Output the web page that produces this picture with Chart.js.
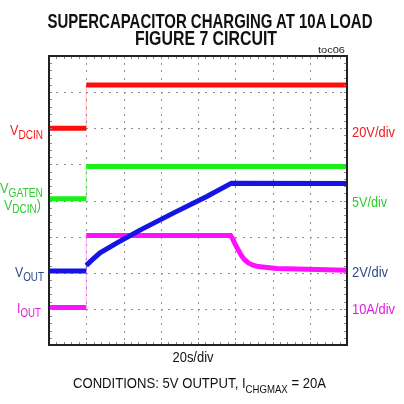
<!DOCTYPE html>
<html>
<head>
<meta charset="utf-8">
<script src="https://cdn.jsdelivr.net/npm/chart.js@4.4.0/dist/chart.umd.min.js"></script>
<style>
  html, body { margin: 0; padding: 0; background: #fff; }
  #wrap { position: relative; width: 404px; height: 404px; background: #fff; overflow: hidden; }
  canvas { position: absolute; left: 0; top: 0; }
  .t { position: absolute; white-space: nowrap; line-height: 0; font-family: "Liberation Sans", Arial, Helvetica, sans-serif; }
  .t span.sub { position: relative; }
</style>
</head>
<body>
<div id="wrap">
  <canvas id="c" width="404" height="404"></canvas>
  <div class="t" id="title1" style="font-size:19.5px;font-weight:bold;color:#111">SUPERCAPACITOR CHARGING AT 10A LOAD</div>
  <div class="t" id="title2" style="font-size:19.5px;font-weight:bold;color:#111">FIGURE 7 CIRCUIT</div>
  <div class="t" id="toc" style="font-size:9px;color:#222">toc06</div>
  <div class="t" id="xlab" style="font-size:14px;color:#111">20s/div</div>
  <div class="t" id="cond" style="font-size:15px;color:#111">CONDITIONS: 5V OUTPUT, I<span class="sub" style="font-size:11px;top:5px">CHGMAX</span> = 20A</div>

  <div class="t" id="lv1" style="font-size:15px;color:#ee1c1c">V<span class="sub" style="font-size:12px;top:3.5px">DCIN</span></div>
  <div class="t" id="lv2a" style="font-size:15px;color:#2ecc2e">V<span class="sub" style="font-size:12px;top:3.5px">GATEN</span></div>
  <div class="t" id="lv2b" style="font-size:15px;color:#2ecc2e">V<span class="sub" style="font-size:12px;top:3.5px">DCIN</span>)</div>
  <div class="t" id="lv3" style="font-size:15px;color:#2e4a86">V<span class="sub" style="font-size:12px;top:4px">OUT</span></div>
  <div class="t" id="lv4" style="font-size:15px;color:#e01ee0">I<span class="sub" style="font-size:12px;top:4px">OUT</span></div>

  <div class="t" id="r1" style="font-size:14px;color:#ee1c1c">20V/div</div>
  <div class="t" id="r2" style="font-size:14px;color:#2ecc2e">5V/div</div>
  <div class="t" id="r3" style="font-size:14px;color:#2e4a86">2V/div</div>
  <div class="t" id="r4" style="font-size:14px;color:#e01ee0">10A/div</div>
</div>
<script>
// ---- Data (time in seconds, 20 s/div; trace levels in screen divisions, 8 div tall) ----
const timeVdcin = [0, 20, 20, 160];
const vdcinDiv  = [6.0, 6.0, 7.2, 7.2];

const timeGate  = [0, 20, 20, 160];
const gateDiv   = [4.05, 4.05, 4.94, 4.94];

const timeVout  = [0, 20, 20, 23, 27.4, 36.3, 48.9, 66.7, 84.7, 98, 160];
const voutDiv   = [2.05, 2.05, 2.2, 2.35, 2.55, 2.82, 3.18, 3.65, 4.11, 4.48, 4.47];

const timeIout  = [0, 20, 20, 97.5, 98.5, 99.5, 101.7, 103.5, 105, 107, 109.5, 112.4, 116, 122.3, 160];
const ioutDiv   = [1.04, 1.04, 3.03, 3.03, 2.95, 2.84, 2.62, 2.46, 2.36, 2.27, 2.21, 2.17, 2.15, 2.12, 2.07];

const timeRange = [0, 160];   // 8 div x 20 s/div
const divRange  = [0, 8];     // 8 vertical divisions

function pts(xs, ys) { return xs.map((x, i) => ({ x: x, y: ys[i] })); }

function traceDataset(label, xs, ys, color, faint, order) {
  return {
    label: label,
    data: pts(xs, ys),
    borderColor: color,
    borderWidth: 5,
    pointRadius: 0,
    tension: 0,
    fill: false,
    order: order,
    borderCapStyle: 'butt',
    segment: {
      borderWidth: ctx => (ctx.p0.parsed.x === ctx.p1.parsed.x ? 1 : 5),
      borderColor: ctx => (ctx.p0.parsed.x === ctx.p1.parsed.x ? faint : color)
    }
  };
}

// dotted scope graticule drawn from the scales
const graticule = {
  id: 'graticule',
  beforeDraw(chart) {
    const { ctx, scales } = chart;
    ctx.save();
    ctx.fillStyle = '#8e8e8e';
    for (let i = 1; i < 8; i++) {
      const gx = Math.round(scales.x.getPixelForValue(i * 20));
      const gy = Math.round(scales.y.getPixelForValue(i));
      for (let k = 1; k < 40; k++) {
        const py = Math.round(scales.y.getPixelForValue(k / 5));
        ctx.fillRect(gx, py, 1, 2);
        const px = Math.round(scales.x.getPixelForValue(k * 4));
        ctx.fillRect(px, gy, 2, 1);
      }
    }
    ctx.restore();
  },
  afterDatasetsDraw(chart) {
    const { ctx, chartArea: a, scales } = chart;
    ctx.save();
    ctx.strokeStyle = '#8a8a8a';
    ctx.lineWidth = 1;
    ctx.beginPath();
    for (let k = 1; k < 40; k++) {
      const px = Math.round(scales.x.getPixelForValue(k * 4)) + 0.5;
      ctx.moveTo(px, a.top); ctx.lineTo(px, a.top + 3);
      ctx.moveTo(px, a.bottom); ctx.lineTo(px, a.bottom - 3);
      const py = Math.round(scales.y.getPixelForValue(k / 5)) + 0.5;
      ctx.moveTo(a.left, py); ctx.lineTo(a.left + 3, py);
      ctx.moveTo(a.right, py); ctx.lineTo(a.right - 3, py);
    }
    ctx.stroke();
    ctx.strokeStyle = '#222';
    ctx.lineWidth = 2;
    ctx.strokeRect(a.left, a.top, a.right - a.left, a.bottom - a.top);
    ctx.restore();
  }
};

new Chart(document.getElementById('c'), {
  type: 'line',
  data: {
    datasets: [
      traceDataset('VOUT', timeVout, voutDiv, '#1414e6', 'rgba(20,20,230,0.4)', 0),
      traceDataset('IOUT', timeIout, ioutDiv, '#ff10ff', 'rgba(255,120,255,0.6)', 1),
      traceDataset('VGATEN - VDCIN', timeGate, gateDiv, '#18f018', 'rgba(40,230,40,0.5)', 2),
      traceDataset('VDCIN', timeVdcin, vdcinDiv, '#ff0c0c', 'rgba(255,80,80,0.4)', 3)
    ]
  },
  options: {
    responsive: false,
    animation: false,
    devicePixelRatio: 1,
    layout: { padding: { left: 49, right: 57, top: 56, bottom: 59 } },
    plugins: { legend: { display: false }, tooltip: { enabled: false }, title: { display: false } },
    scales: {
      x: {
        type: 'linear', min: timeRange[0], max: timeRange[1],
        ticks: { display: false, stepSize: 20 },
        grid: { display: false, drawTicks: false },
        border: { display: false },
        afterFit: s => { s.height = 0; }
      },
      y: {
        type: 'linear', min: divRange[0], max: divRange[1],
        ticks: { display: false, stepSize: 1 },
        grid: { display: false, drawTicks: false },
        border: { display: false },
        afterFit: s => { s.width = 0; }
      }
    }
  },
  plugins: [graticule]
});

// ---- text placement (baseline-based, fitted to measured widths) ----
function place(id, x, baseline, align, width) {
  const el = document.getElementById(id);
  const fs = parseFloat(el.style.fontSize);
  el.style.top = (baseline - 0.3465 * fs) + 'px';
  const w = el.getBoundingClientRect().width;
  const s = width / w;
  el.style.transformOrigin = '0 0';
  if (align === 'center') {
    el.style.left = x + 'px';
    el.style.transform = 'translateX(' + (-width / 2) + 'px) scaleX(' + s + ')';
  } else if (align === 'right') {
    el.style.left = (x - width) + 'px';
    el.style.transform = 'scaleX(' + s + ')';
  } else {
    el.style.left = x + 'px';
    el.style.transform = 'scaleX(' + s + ')';
  }
}
place('title1', 209.5, 27.5, 'center', 325);
place('title2', 206, 45.2, 'center', 142);
place('toc', 318, 53, 'left', 27);
place('xlab', 192.5, 361.5, 'center', 41);
place('cond', 73, 388, 'left', 253);

place('lv1', 42.5, 135.5, 'right', 33);
place('lv2a', 42.7, 193.3, 'right', 43);
place('lv2b', 40.7, 210, 'right', 37);
place('lv3', 44, 276.7, 'right', 29);
place('lv4', 40.5, 313.3, 'right', 24);

place('r1', 352, 136.5, 'left', 43);
place('r2', 352, 206.5, 'left', 35);
place('r3', 352, 276.5, 'left', 36);
place('r4', 352, 314.3, 'left', 43);
</script>
</body>
</html>
